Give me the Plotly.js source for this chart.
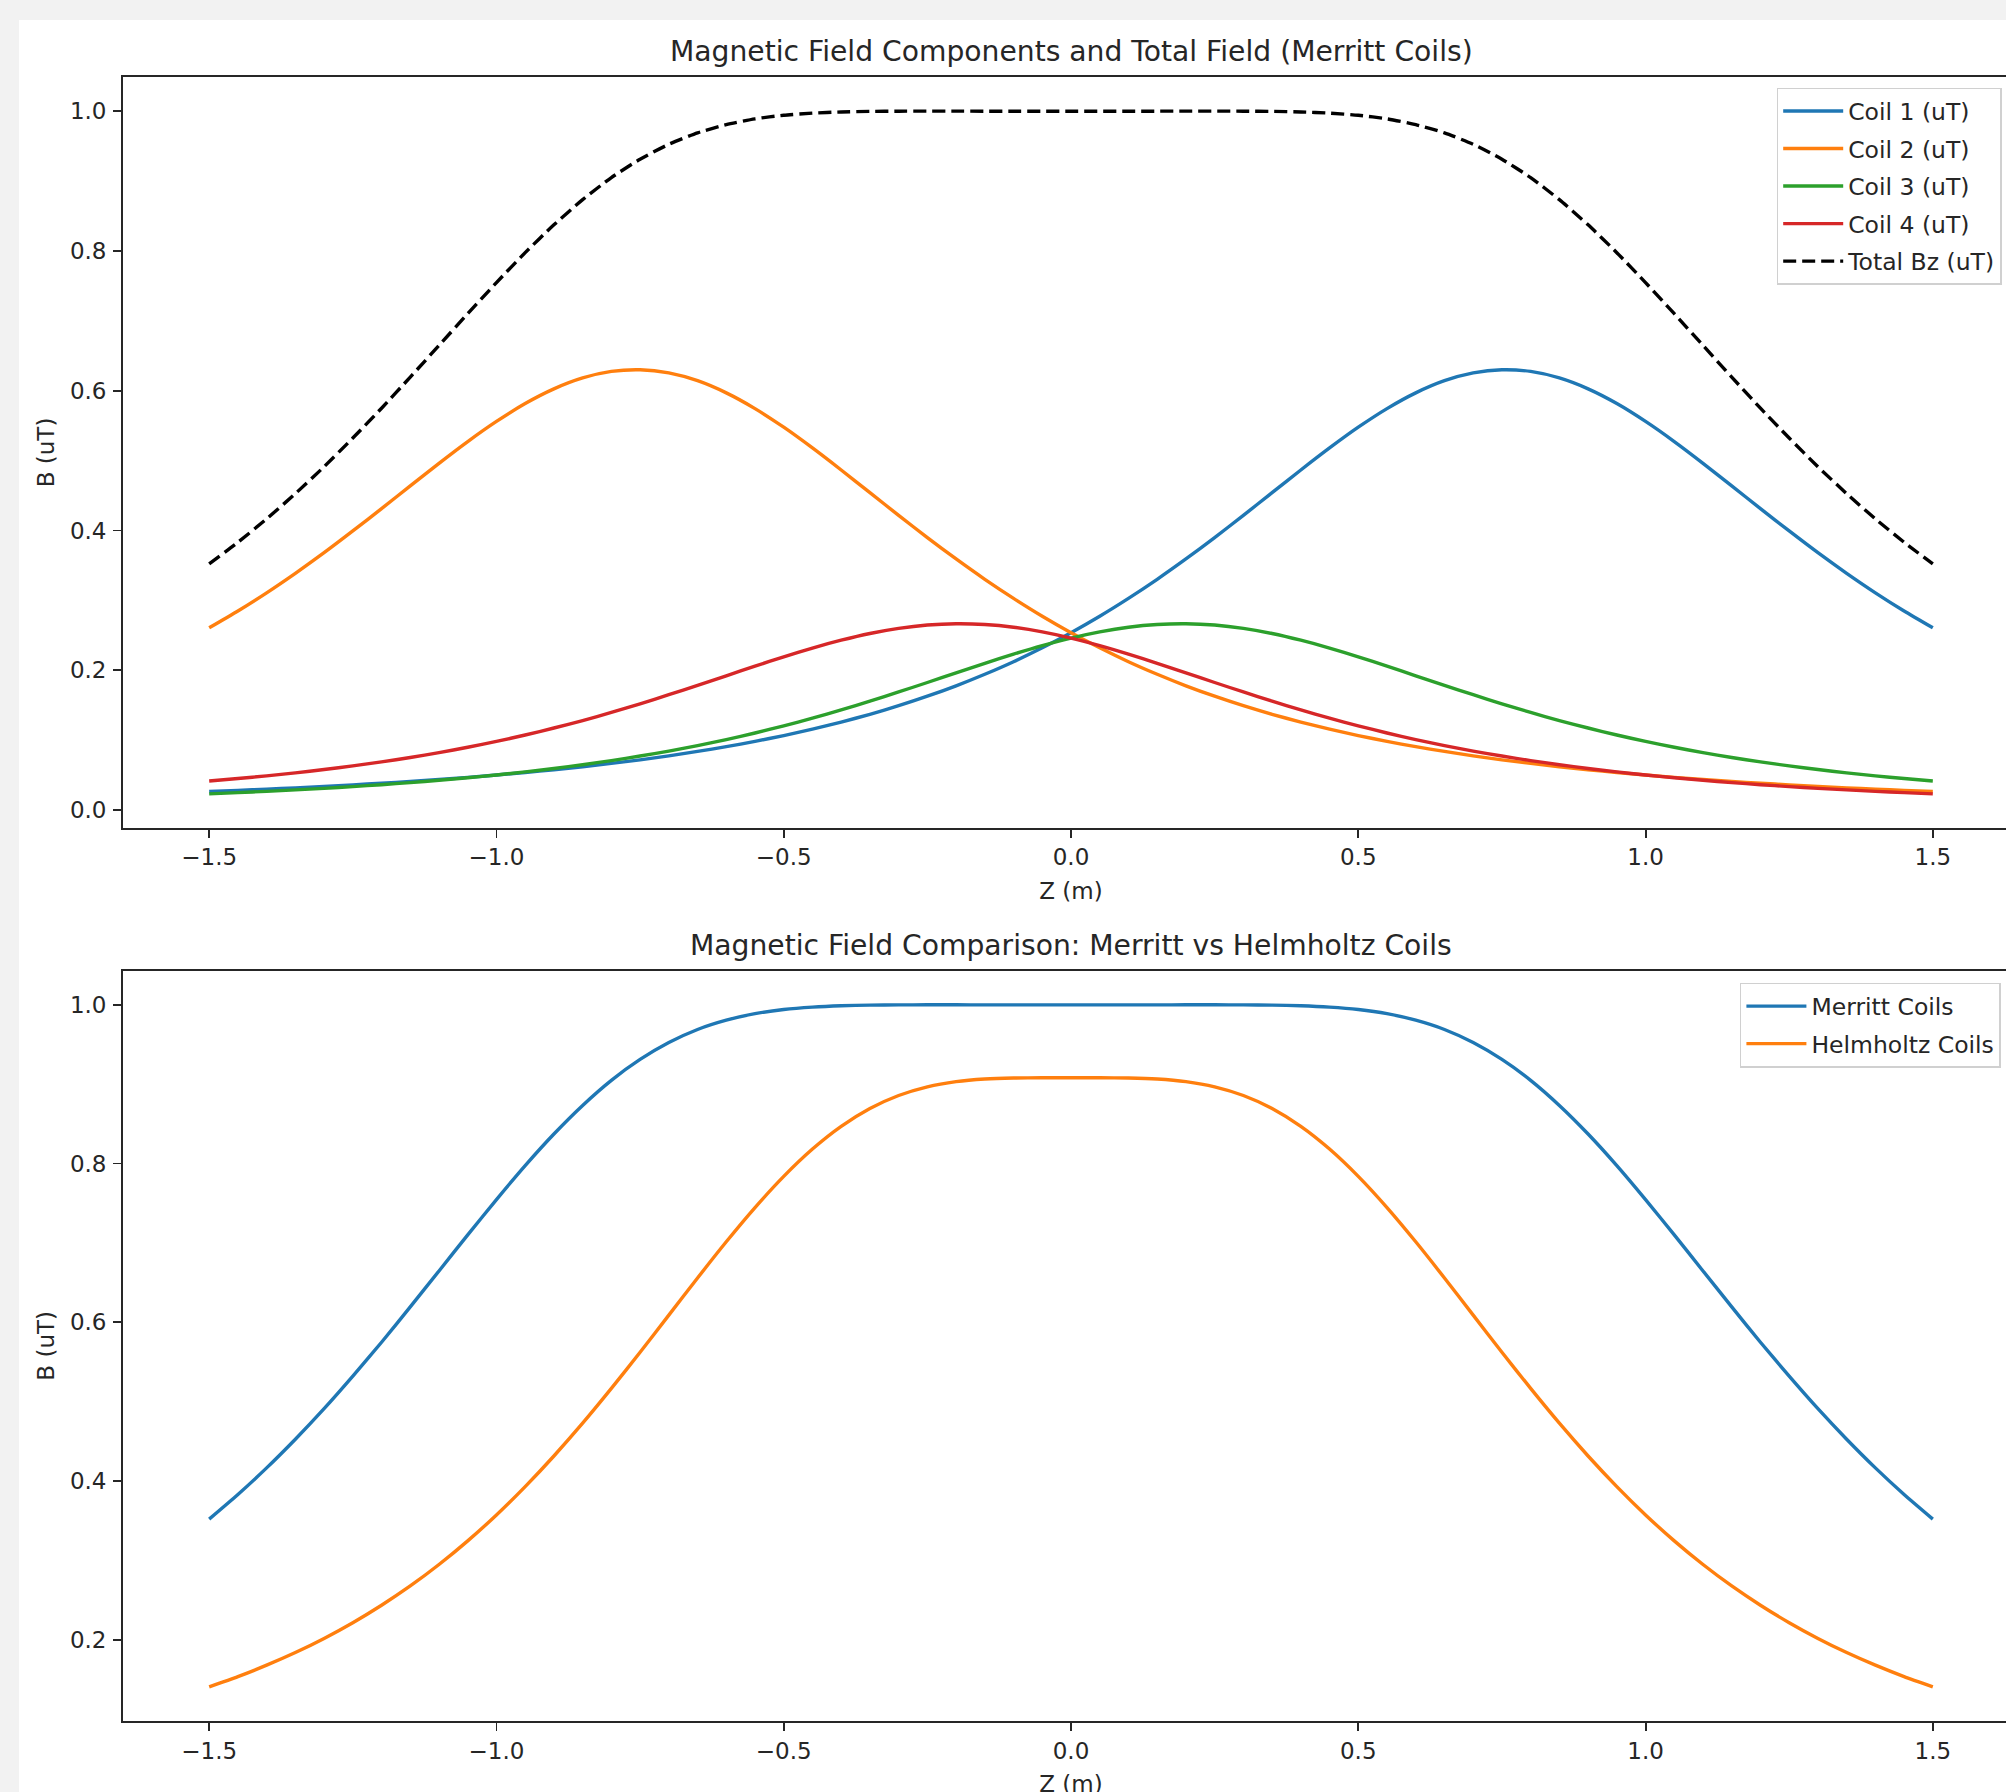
<!DOCTYPE html>
<html><head><meta charset="utf-8">
<script src="https://cdn.plot.ly/plotly-3.0.1.min.js"></script>
<style>
html,body{margin:0;padding:0;overflow:hidden;background:#f2f2f2;width:2006px;height:1792px;}
#chart{position:absolute;left:19px;top:20px;width:2100px;height:1850px;}
</style></head><body><div id="chart"></div>
<script>
const z = [-1.5,-1.45,-1.4,-1.35,-1.3,-1.25,-1.2,-1.15,-1.1,-1.05,-1.0,-0.95,-0.9,-0.85,-0.8,-0.75,-0.7,-0.65,-0.6,-0.55,-0.5,-0.45,-0.4,-0.35,-0.3,-0.25,-0.2,-0.15,-0.1,-0.05,0,0.05,0.1,0.15,0.2,0.25,0.3,0.35,0.4,0.45,0.5,0.55,0.6,0.65,0.7,0.75,0.8,0.85,0.9,0.95,1.0,1.05,1.1,1.15,1.2,1.25,1.3,1.35,1.4,1.45,1.5];

const coil1 = [0.0266,0.0282,0.0300,0.0318,0.0339,0.0361,0.0384,0.0410,0.0438,0.0468,0.0502,0.0538,0.0577,0.0620,0.0668,0.0719,0.0776,0.0839,0.0907,0.0983,0.1066,0.1157,0.1259,0.1370,0.1493,0.1629,0.1778,0.1943,0.2123,0.2322,0.2538,0.2773,0.3028,0.3301,0.3592,0.3898,0.4216,0.4541,0.4865,0.5180,0.5477,0.5743,0.5968,0.6142,0.6254,0.6299,0.6275,0.6182,0.6026,0.5816,0.5560,0.5272,0.4961,0.4638,0.4313,0.3993,0.3682,0.3387,0.3108,0.2848,0.2607];

const coil2 = [0.2607,0.2848,0.3108,0.3387,0.3682,0.3993,0.4313,0.4638,0.4961,0.5272,0.5560,0.5816,0.6026,0.6182,0.6275,0.6299,0.6254,0.6142,0.5968,0.5743,0.5477,0.5180,0.4865,0.4541,0.4216,0.3898,0.3592,0.3301,0.3028,0.2773,0.2538,0.2322,0.2123,0.1943,0.1778,0.1629,0.1493,0.1370,0.1259,0.1157,0.1066,0.0983,0.0907,0.0839,0.0776,0.0719,0.0668,0.0620,0.0577,0.0538,0.0502,0.0468,0.0438,0.0410,0.0384,0.0361,0.0339,0.0318,0.0300,0.0282,0.0266];

const coil3 = [0.0232,0.0250,0.0268,0.0289,0.0311,0.0336,0.0363,0.0393,0.0426,0.0462,0.0502,0.0546,0.0595,0.0649,0.0708,0.0773,0.0844,0.0923,0.1009,0.1103,0.1205,0.1315,0.1433,0.1558,0.1690,0.1825,0.1963,0.2099,0.2231,0.2353,0.2461,0.2550,0.2616,0.2655,0.2666,0.2647,0.2599,0.2526,0.2430,0.2318,0.2192,0.2059,0.1921,0.1784,0.1650,0.1520,0.1397,0.1281,0.1174,0.1074,0.0982,0.0899,0.0822,0.0753,0.0689,0.0632,0.0580,0.0533,0.0490,0.0451,0.0416];

const coil4 = [0.0416,0.0451,0.0490,0.0533,0.0580,0.0632,0.0689,0.0753,0.0822,0.0899,0.0982,0.1074,0.1174,0.1281,0.1397,0.1520,0.1650,0.1784,0.1921,0.2059,0.2192,0.2318,0.2430,0.2526,0.2599,0.2647,0.2666,0.2655,0.2616,0.2550,0.2461,0.2353,0.2231,0.2099,0.1963,0.1825,0.1690,0.1558,0.1433,0.1315,0.1205,0.1103,0.1009,0.0923,0.0844,0.0773,0.0708,0.0649,0.0595,0.0546,0.0502,0.0462,0.0426,0.0393,0.0363,0.0336,0.0311,0.0289,0.0268,0.0250,0.0232];

const totalBz = [0.3521,0.3831,0.4166,0.4527,0.4912,0.5322,0.5749,0.6194,0.6647,0.7101,0.7546,0.7974,0.8372,0.8732,0.9048,0.9311,0.9524,0.9688,0.9805,0.9888,0.9940,0.9970,0.9987,0.9995,0.9998,0.9999,0.9999,0.9998,0.9998,0.9998,0.9998,0.9998,0.9998,0.9998,0.9999,0.9999,0.9998,0.9995,0.9987,0.9970,0.9940,0.9888,0.9805,0.9688,0.9524,0.9311,0.9048,0.8732,0.8372,0.7974,0.7546,0.7101,0.6647,0.6194,0.5749,0.5322,0.4912,0.4527,0.4166,0.3831,0.3521];

const helmholtz = [0.1408,0.1537,0.1681,0.1840,0.2018,0.2216,0.2436,0.2679,0.2949,0.3247,0.3573,0.3930,0.4316,0.4729,0.5167,0.5623,0.6090,0.6558,0.7014,0.7445,0.7838,0.8182,0.8468,0.8693,0.8857,0.8966,0.9031,0.9064,0.9077,0.9080,0.9080,0.9080,0.9077,0.9064,0.9031,0.8966,0.8857,0.8693,0.8468,0.8182,0.7838,0.7445,0.7014,0.6558,0.6090,0.5623,0.5167,0.4729,0.4316,0.3930,0.3573,0.3247,0.2949,0.2679,0.2436,0.2216,0.2018,0.1840,0.1681,0.1537,0.1408];

const topNames = ['Coil 1 (uT)','Coil 2 (uT)','Coil 3 (uT)','Coil 4 (uT)','Total Bz (uT)'];
const bottomNames = ['Merritt Coils','Helmholtz Coils'];
const titles = ['Magnetic Field Components and Total Field (Merritt Coils)','Magnetic Field Comparison: Merritt vs Helmholtz Coils'];
const xLabel = 'Z (m)';
const yLabel = 'B (uT)';

const C = {blue:'#1f77b4', orange:'#ff7f0e', green:'#2ca02c', red:'#d62728', black:'#000000'};
const LW = 3.4;
const FONT = 'DejaVu Sans, Liberation Sans, sans-serif';
const TXT = '#262626';

function tr(y, name, color, xa, ya, leg, grp, dash){
  return {x:z, y:y, name:name, type:'scatter', mode:'lines', xaxis:xa, yaxis:ya,
    line:{color:color, width:LW, dash:dash||'solid', shape:'spline', smoothing:0.6},
    legend:leg, legendgroup:grp, hoverinfo:'skip'};
}

const traces = [
  tr(coil1, topNames[0], C.blue, 'x','y','legend','a'),
  tr(coil2, topNames[1], C.orange, 'x','y','legend','b'),
  tr(coil3, topNames[2], C.green, 'x','y','legend','c'),
  tr(coil4, topNames[3], C.red, 'x','y','legend','d'),
  tr(totalBz, topNames[4], C.black, 'x','y','legend','e','13px,6px'),
  tr(totalBz, bottomNames[0], C.blue, 'x2','y2','legend2','f'),
  tr(helmholtz, bottomNames[1], C.orange, 'x2','y2','legend2','g')
];

function xax(anchor){
  return {domain:[0,1], anchor:anchor, range:[-1.65,1.65], tick0:-1.5, dtick:0.5, tickformat:'.1f',
    ticks:'outside', ticklen:8, tickwidth:1.9, tickcolor:TXT, showline:true, linewidth:1.9, linecolor:TXT,
    mirror:true, showgrid:false, zeroline:false, ticklabelstandoff:0,
    tickfont:{family:FONT, size:23, color:TXT},
    title:{text:xLabel, font:{family:FONT, size:23, color:TXT}, standoff:13}};
}
function yax(anchor, domain, range, dtick){
  return {domain:domain, anchor:anchor, range:range, tick0:0, dtick:dtick, tickformat:'.1f',
    ticks:'outside', ticklen:8, tickwidth:1.9, tickcolor:TXT, showline:true, linewidth:1.9, linecolor:TXT,
    mirror:true, showgrid:false, zeroline:false, ticklabelstandoff:2,
    tickfont:{family:FONT, size:23, color:TXT},
    title:{text:yLabel, font:{family:FONT, size:23, color:TXT}, standoff:9}};
}

const legendBase = {xanchor:'left', yanchor:'top', bgcolor:'rgba(255,255,255,0.8)', bordercolor:'#d0d0d0', borderwidth:1.5,
  font:{family:FONT, size:23.5, color:TXT}, tracegroupgap:4, itemwidth:60};

const layout = {
  width:2100, height:1850,
  margin:{l:104, r:100, t:57, b:149},
  paper_bgcolor:'#ffffff', plot_bgcolor:'#ffffff',
  font:{family:FONT, color:TXT},
  showlegend:true,
  xaxis:xax('y'),
  yaxis:yax('x',[0.5432,1],[-0.0256,1.0487],0.2),
  xaxis2:xax('y2'),
  yaxis2:yax('x2',[0,0.4564],[0.0978,1.0429],0.2),
  legend:Object.assign({x:0.8722, y:0.9935}, legendBase),
  legend2:Object.assign({x:0.8528, y:0.4490}, legendBase),
  annotations:[
    {text:titles[0], xref:'paper', yref:'paper', x:0.5, y:1.0158, xanchor:'center', yanchor:'middle', showarrow:false, font:{family:FONT, size:28.2, color:TXT}},
    {text:titles[1], xref:'paper', yref:'paper', x:0.5, y:0.4720, xanchor:'center', yanchor:'middle', showarrow:false, font:{family:FONT, size:28.2, color:TXT}}
  ]
};

Plotly.newPlot('chart', traces, layout, {staticPlot:true, displayModeBar:false});
</script>
</body></html>
